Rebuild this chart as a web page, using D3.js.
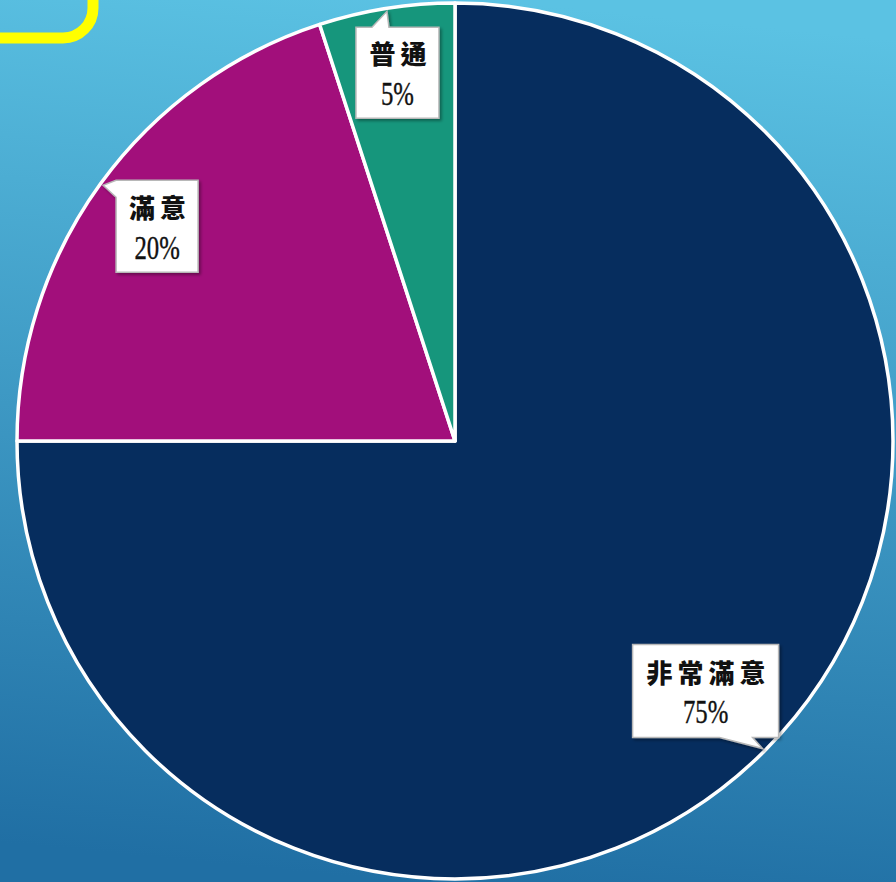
<!doctype html>
<html>
  <head>
    <meta charset="utf-8">
    <script src="https://cdnjs.cloudflare.com/ajax/libs/d3/7.8.5/d3.min.js"></script>
    <style>
      body { margin: 0; }
      svg { display: block; }
    </style>
  </head>
  <body>
    <svg width="896" height="882"></svg>
    <script>
        // data
        var categories = ["非常滿意", "滿意", "普通"];
        var percents = [75, 20, 5];
        var colours = ["#062d5e", "#a20f7b", "#16967c"];

        var width = 896, height = 882;
        var cx = 455, cy = 441, radius = 438;

        var svg = d3.select("svg");

        // background gradient
        var defs = svg.append("defs");
        var grad = defs.append("linearGradient")
            .attr("id", "bg")
            .attr("x1", "0.55").attr("y1", "0")
            .attr("x2", "0.45").attr("y2", "1");
        grad.append("stop").attr("offset", "0").attr("stop-color", "#5bc2e3");
        grad.append("stop").attr("offset", "1").attr("stop-color", "#206fa4");

        var shadow = defs.append("filter").attr("id", "shadow")
            .attr("x", "-10%").attr("y", "-10%").attr("width", "130%").attr("height", "130%");
        shadow.append("feDropShadow")
            .attr("dx", 2).attr("dy", 2).attr("stdDeviation", 1.5)
            .attr("flood-color", "#000").attr("flood-opacity", 0.35);

        svg.append("rect")
            .attr("width", width).attr("height", height)
            .attr("fill", "url(#bg)");

        // yellow frame peeking in from the corner
        svg.append("rect")
            .attr("x", -60).attr("y", -60)
            .attr("width", 153).attr("height", 98)
            .attr("rx", 30).attr("ry", 30)
            .attr("fill", "none")
            .attr("stroke", "#ffff00")
            .attr("stroke-width", 11);

        var pie = d3.pie().sort(null).value(d => d);
        var arcs = pie(percents);

        var arc = d3.arc().innerRadius(0).outerRadius(radius);

        var g = svg.append("g").attr("transform", "translate(" + cx + "," + cy + ")");

        g.selectAll("path")
            .data(arcs)
            .enter()
            .append("path")
                .attr("d", arc)
                .attr("fill", (d, i) => colours[i])
                .attr("stroke", "#ffffff")
                .attr("stroke-width", 3.5)
                .attr("stroke-linejoin", "round");

        // callout labels: tip sits on the rim at the slice's middle angle
        function tipOf(d) {
            var a = (d.startAngle + d.endAngle) / 2;
            return [Math.sin(a) * (radius - 3), -Math.cos(a) * (radius - 3)];
        }

        // box placement relative to tip (dx, dy of box top-left, box w, h, pointer side)
        var boxes = [
            { dx: -130, dy: -104, w: 146, h: 93, side: "bottom" },
            { dx: 13, dy: -5, w: 82, h: 92, side: "left" },
            { dx: -31, dy: 16, w: 83, h: 91, side: "top" }
        ];

        var labels = g.selectAll("g.label")
            .data(arcs)
            .enter()
            .append("g")
                .attr("class", "label");

        labels.each(function(d, i) {
            var t = tipOf(d);
            var b = boxes[i];
            var x0 = t[0] + b.dx, y0 = t[1] + b.dy, x1 = x0 + b.w, y1 = y0 + b.h;
            var p = d3.path();
            p.moveTo(x0, y0);
            if (b.side === "top") {
                p.lineTo(t[0] - 15, y0);
                p.lineTo(t[0], t[1]);
                p.lineTo(t[0] + 2, y0);
            }
            p.lineTo(x1, y0);
            p.lineTo(x1, y1);
            if (b.side === "bottom") {
                p.lineTo(t[0] - 10, y1);
                p.lineTo(t[0], t[1]);
                p.lineTo(t[0] - 43, y1);
            }
            p.lineTo(x0, y1);
            if (b.side === "left") {
                p.lineTo(x0, y0 + 17);
                p.lineTo(t[0], t[1]);
            }
            p.closePath();

            var sel = d3.select(this);
            sel.append("path")
                .attr("d", p.toString())
                .attr("fill", "#ffffff")
                .attr("stroke", "#b8b8b8")
                .attr("stroke-width", 1.5)
                .attr("filter", "url(#shadow)");

            var tx = (x0 + x1) / 2;
            sel.append("text")
                .attr("x", tx + 3)
                .attr("y", y0 + b.h / 2 - 20)
                .attr("text-anchor", "middle")
                .attr("dominant-baseline", "central")
                .attr("font-family", "'Noto Sans CJK TC', sans-serif")
                .attr("font-weight", "900")
                .attr("font-size", 26)
                .attr("letter-spacing", 5)
                .attr("fill", "#111")
                .text(categories[i]);

            sel.append("text")
                .attr("x", tx)
                .attr("y", y0 + b.h / 2 + 21)
                .attr("text-anchor", "middle")
                .attr("dominant-baseline", "central")
                .attr("font-family", "'Liberation Serif', serif")
                .attr("font-size", 33)
                .attr("stroke", "#111")
                .attr("stroke-width", 0.4)
                .attr("transform", "translate(" + tx + ",0) scale(0.75,1) translate(" + (-tx) + ",0)")
                .attr("fill", "#111")
                .text(percents[i] + "%");
        });
    </script>
  </body>
</html>
